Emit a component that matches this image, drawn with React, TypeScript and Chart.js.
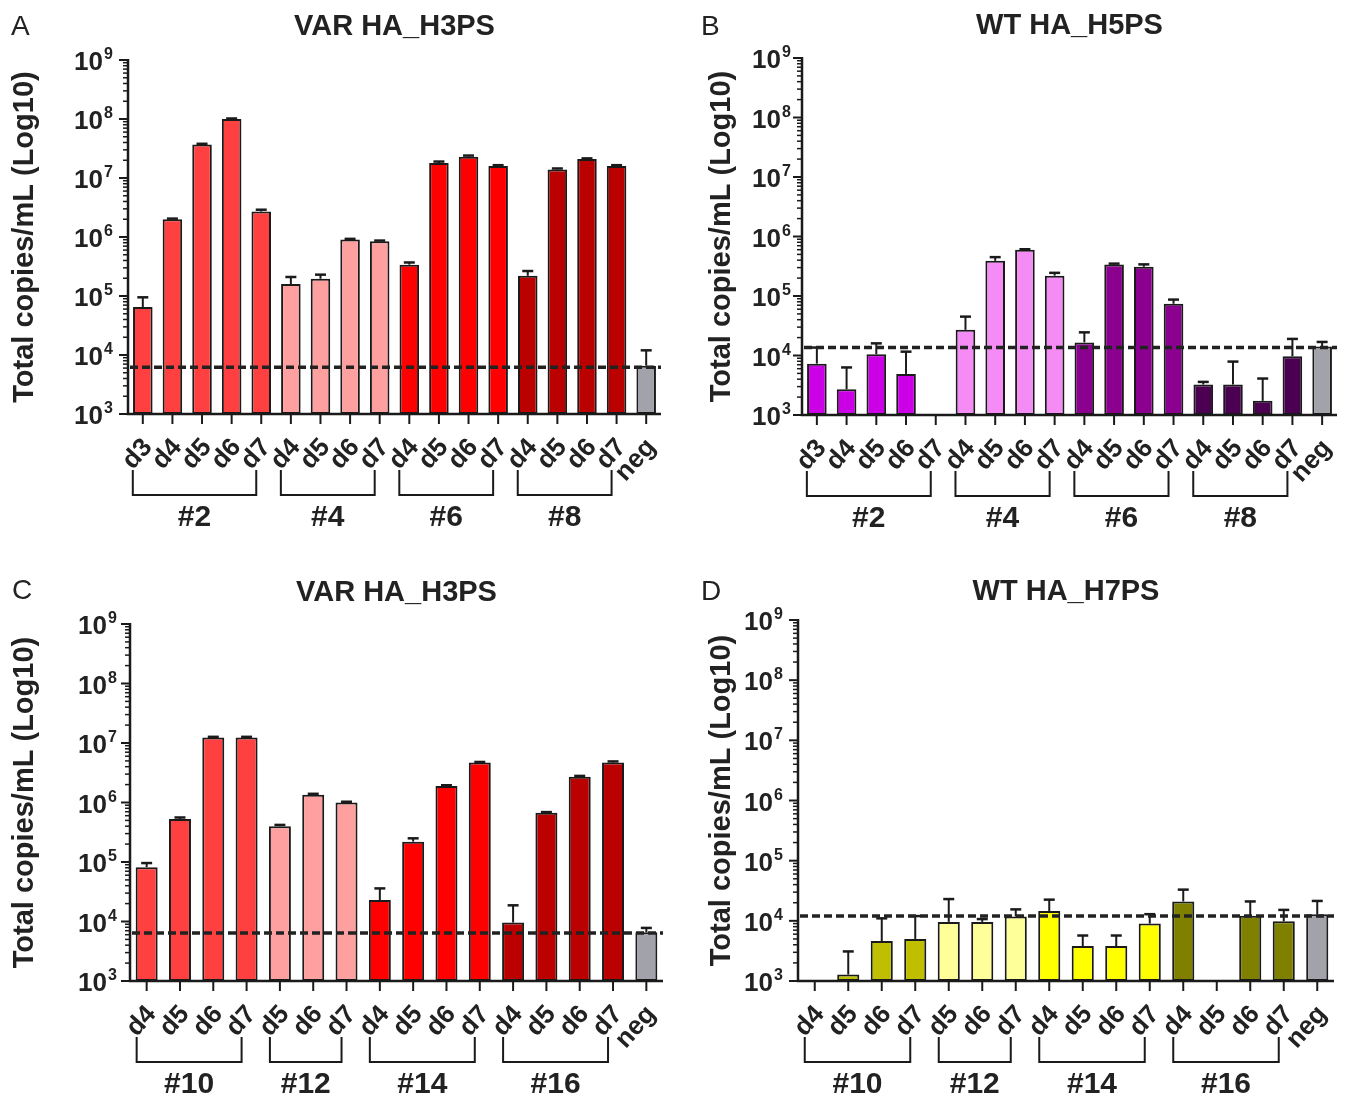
import React, { useEffect, useRef } from 'react';
import { Chart, registerables } from 'chart.js';

Chart.register(...registerables);

const FONT = '"Liberation Sans", Arial, Helvetica, sans-serif';
const INK = '#1a1a1a';

// ---------------- Panel A ----------------
const titleA = 'VAR HA_H3PS';
const catsA = ['d3', 'd4', 'd5', 'd6', 'd7', 'd4', 'd5', 'd6', 'd7', 'd4', 'd5', 'd6', 'd7', 'd4', 'd5', 'd6', 'd7', 'neg'];
const valsA = [6.5e4, 2.0e6, 3.7e7, 1.0e8, 2.7e6, 1.6e5, 1.96e5, 9.1e5, 8.5e5, 3.4e5, 1.8e7, 2.3e7, 1.6e7, 2.2e5, 1.4e7, 2.1e7, 1.6e7, 6.6e3];
const errA = [9.5e4, 2.05e6, 3.8e7, 1.02e8, 2.9e6, 2.1e5, 2.3e5, 9.3e5, 8.7e5, 3.7e5, 1.9e7, 2.4e7, 1.65e7, 2.65e5, 1.45e7, 2.15e7, 1.65e7, 1.2e4];
const groupLabelsA = ['#2', '#4', '#6', '#8'];
const groupSpansA = [[0, 4], [5, 8], [9, 12], [13, 16]];
const groupColorsA = ['#FF4040', '#FFA0A0', '#FF0000', '#BB0000'];
const cutoffA = 6.2e3;

// ---------------- Panel B ----------------
const titleB = 'WT HA_H5PS';
const catsB = ['d3', 'd4', 'd5', 'd6', 'd7', 'd4', 'd5', 'd6', 'd7', 'd4', 'd5', 'd6', 'd7', 'd4', 'd5', 'd6', 'd7', 'neg'];
const valsB = [7.3e3, 2.7e3, 1.05e4, 4.9e3, null, 2.7e4, 3.9e5, 6.0e5, 2.2e5, 1.66e4, 3.4e5, 3.1e5, 7.4e4, 3.25e3, 3.25e3, 1.73e3, 9.7e3, 1.42e4];
const errB = [1.36e4, 6.3e3, 1.6e4, 1.16e4, null, 4.5e4, 4.5e5, 6.1e5, 2.45e5, 2.45e4, 3.5e5, 3.4e5, 8.7e4, 3.6e3, 7.9e3, 4.1e3, 1.9e4, 1.69e4];
const groupLabelsB = ['#2', '#4', '#6', '#8'];
const groupSpansB = [[0, 4], [5, 8], [9, 12], [13, 16]];
const groupColorsB = ['#CC00E6', '#F58CF5', '#8B008F', '#4B0052'];
const cutoffB = 1.36e4;

// ---------------- Panel C ----------------
const titleC = 'VAR HA_H3PS';
const catsC = ['d4', 'd5', 'd6', 'd7', 'd5', 'd6', 'd7', 'd4', 'd5', 'd6', 'd7', 'd4', 'd5', 'd6', 'd7', 'neg'];
const valsC = [8.2e4, 5.3e5, 1.24e7, 1.24e7, 4.0e5, 1.35e6, 1.0e6, 2.3e4, 2.2e5, 1.9e6, 4.7e6, 9.6e3, 6.7e5, 2.7e6, 4.7e6, 6.6e3];
const errC = [9.6e4, 5.6e5, 1.27e7, 1.27e7, 4.2e5, 1.4e6, 1.03e6, 3.6e4, 2.5e5, 1.95e6, 4.8e6, 1.87e4, 6.9e5, 2.8e6, 4.9e6, 7.8e3];
const groupLabelsC = ['#10', '#12', '#14', '#16'];
const groupSpansC = [[0, 3], [4, 6], [7, 10], [11, 14]];
const groupColorsC = ['#FF4040', '#FFA0A0', '#FF0000', '#BB0000'];
const cutoffC = 6.4e3;

// ---------------- Panel D ----------------
const titleD = 'WT HA_H7PS';
const catsD = ['d4', 'd5', 'd6', 'd7', 'd5', 'd6', 'd7', 'd4', 'd5', 'd6', 'd7', 'd4', 'd5', 'd6', 'd7', 'neg'];
const valsD = [null, 1.28e3, 4.6e3, 5.0e3, 9.6e3, 9.6e3, 1.18e4, 1.45e4, 3.8e3, 3.8e3, 9.0e3, 2.1e4, null, 1.22e4, 9.8e3, 1.29e4];
const errD = [null, 3.1e3, 1.1e4, 1.2e4, 2.3e4, 1.07e4, 1.55e4, 2.25e4, 5.7e3, 5.7e3, 1.29e4, 3.3e4, null, 2.1e4, 1.52e4, 2.14e4];
const groupLabelsD = ['#10', '#12', '#14', '#16'];
const groupSpansD = [[0, 3], [4, 6], [7, 10], [11, 14]];
const groupColorsD = ['#BFBF00', '#FFFF99', '#FFFF00', '#808000'];
const cutoffD = 1.2e4;

const negColor = '#A2A2AA';
const yMin = 1e3;
const yMax = 1e9;

type Spec = {
  letter: string;
  title: string;
  cats: string[];
  vals: (number | null)[];
  errs: (number | null)[];
  groupLabels: string[];
  groupSpans: number[][];
  groupColors: string[];
  cutoff: number;
  x: number;
  y: number;
  w: number;
  h: number;
  pad: { left: number; top: number; right: number; bottom: number };
  titleY: number;
  letterX: number;
  letterY: number;
  yTitleX: number;
  tickGap: number;
};

const specs: Spec[] = [
  {
    letter: 'A', title: titleA, cats: catsA, vals: valsA, errs: errA, groupLabels: groupLabelsA,
    groupSpans: groupSpansA, groupColors: groupColorsA, cutoff: cutoffA,
    x: 0, y: 0, w: 675, h: 560, pad: { left: 128, top: 60, right: 14, bottom: 146 },
    titleY: 27, letterX: 11, letterY: 27, yTitleX: 25, tickGap: 25,
  },
  {
    letter: 'B', title: titleB, cats: catsB, vals: valsB, errs: errB, groupLabels: groupLabelsB,
    groupSpans: groupSpansB, groupColors: groupColorsB, cutoff: cutoffB,
    x: 675, y: 0, w: 675, h: 560, pad: { left: 127, top: 58, right: 13, bottom: 145 },
    titleY: 26, letterX: 26, letterY: 27, yTitleX: 47, tickGap: 21,
  },
  {
    letter: 'C', title: titleC, cats: catsC, vals: valsC, errs: errC, groupLabels: groupLabelsC,
    groupSpans: groupSpansC, groupColors: groupColorsC, cutoff: cutoffC,
    x: 0, y: 560, w: 675, h: 538, pad: { left: 130, top: 64, right: 12, bottom: 117 },
    titleY: 33, letterX: 12, letterY: 31, yTitleX: 25, tickGap: 23,
  },
  {
    letter: 'D', title: titleD, cats: catsD, vals: valsD, errs: errD, groupLabels: groupLabelsD,
    groupSpans: groupSpansD, groupColors: groupColorsD, cutoff: cutoffD,
    x: 675, y: 560, w: 675, h: 538, pad: { left: 123, top: 60, right: 16, bottom: 117 },
    titleY: 32, letterX: 26, letterY: 32, yTitleX: 47, tickGap: 25,
  },
];

function barColors(s: Spec): string[] {
  return s.cats.map((_, i) => {
    const g = s.groupSpans.findIndex(([a, b]) => i >= a && i <= b);
    return g >= 0 ? s.groupColors[g] : negColor;
  });
}

function makeDecor(s: Spec) {
  return {
    id: 'decor' + s.letter,
    afterDatasetsDraw(chart: any) {
      const ctx: CanvasRenderingContext2D = chart.ctx;
      const ys = chart.scales.y;
      const { left, right } = chart.chartArea;
      const meta = chart.getDatasetMeta(0);
      ctx.save();

      // error bars (upper only)
      ctx.strokeStyle = INK;
      s.vals.forEach((v, i) => {
        const e = s.errs[i];
        if (v == null || e == null) return;
        const cx = meta.data[i].x;
        const y0 = ys.getPixelForValue(v);
        const y1 = ys.getPixelForValue(e);
        ctx.lineWidth = 2;
        ctx.beginPath();
        ctx.moveTo(cx, y0);
        ctx.lineTo(cx, y1);
        ctx.stroke();
        ctx.lineWidth = 2.5;
        ctx.beginPath();
        ctx.moveTo(cx - 5.5, y1);
        ctx.lineTo(cx + 5.5, y1);
        ctx.stroke();
      });

      // cutoff dashed line
      const yc = ys.getPixelForValue(s.cutoff);
      ctx.strokeStyle = '#222';
      ctx.lineWidth = 3.5;
      ctx.setLineDash([8, 4]);
      ctx.beginPath();
      ctx.moveTo(left + 2, yc);
      ctx.lineTo(right, yc);
      ctx.stroke();
      ctx.setLineDash([]);
      ctx.restore();
    },
    afterDraw(chart: any) {
      const ctx: CanvasRenderingContext2D = chart.ctx;
      const xs = chart.scales.x;
      const ys = chart.scales.y;
      const { left, right, top, bottom } = chart.chartArea;
      ctx.save();
      ctx.strokeStyle = INK;
      ctx.fillStyle = '#222';

      // axes
      ctx.lineWidth = 2.5;
      ctx.beginPath();
      ctx.moveTo(left, top - 1);
      ctx.lineTo(left, bottom);
      ctx.lineTo(right, bottom);
      ctx.stroke();

      // y ticks
      for (let e = 3; e <= 9; e++) {
        const py = ys.getPixelForValue(Math.pow(10, e));
        ctx.lineWidth = 2;
        ctx.beginPath();
        ctx.moveTo(left - 9, py);
        ctx.lineTo(left, py);
        ctx.stroke();
        if (e < 9) {
          ctx.lineWidth = 1.5;
          for (let m = 2; m <= 9; m++) {
            const pm = ys.getPixelForValue(m * Math.pow(10, e));
            ctx.beginPath();
            ctx.moveTo(left - 5, pm);
            ctx.lineTo(left, pm);
            ctx.stroke();
          }
        }
        // label 10^e
        ctx.font = `bold 26px ${FONT}`;
        ctx.textAlign = 'right';
        ctx.textBaseline = 'alphabetic';
        ctx.fillText('10', left - s.tickGap, py + 10);
        ctx.font = `bold 16px ${FONT}`;
        ctx.textAlign = 'left';
        ctx.fillText(String(e), left - s.tickGap + 1, py - 1);
      }

      // x ticks and labels
      s.cats.forEach((c, i) => {
        const px = xs.getPixelForValue(i);
        ctx.lineWidth = 2;
        ctx.beginPath();
        ctx.moveTo(px, bottom);
        ctx.lineTo(px, bottom + 10);
        ctx.stroke();
        ctx.save();
        ctx.translate(px + 5, bottom + 29);
        ctx.rotate((-48 * Math.PI) / 180);
        ctx.font = `bold 26px ${FONT}`;
        ctx.textAlign = 'right';
        ctx.textBaseline = 'middle';
        ctx.fillText(c, 0, 0);
        ctx.restore();
      });

      // group brackets
      s.groupSpans.forEach(([a, b], g) => {
        const x0 = xs.getPixelForValue(a) - 10;
        const x1 = xs.getPixelForValue(b) - 5;
        ctx.lineWidth = 2;
        ctx.beginPath();
        ctx.moveTo(x0, bottom + 56);
        ctx.lineTo(x0, bottom + 81);
        ctx.lineTo(x1, bottom + 81);
        ctx.lineTo(x1, bottom + 56);
        ctx.stroke();
        ctx.font = `bold 30px ${FONT}`;
        ctx.textAlign = 'center';
        ctx.textBaseline = 'middle';
        ctx.fillText(s.groupLabels[g], (x0 + x1) / 2, bottom + 104);
      });

      // title
      ctx.font = `bold 29px ${FONT}`;
      ctx.textAlign = 'center';
      ctx.textBaseline = 'middle';
      ctx.fillText(s.title, (left + right) / 2, s.titleY);

      // panel letter
      ctx.font = `28px ${FONT}`;
      ctx.textAlign = 'left';
      ctx.fillText(s.letter, s.letterX, s.letterY);

      // y title
      ctx.save();
      ctx.translate(s.yTitleX, (top + bottom) / 2);
      ctx.rotate(-Math.PI / 2);
      ctx.font = `bold 29px ${FONT}`;
      ctx.textAlign = 'center';
      ctx.textBaseline = 'middle';
      ctx.fillText('Total copies/mL (Log10)', 0, 0);
      ctx.restore();

      ctx.restore();
    },
  };
}

function Panel({ spec }: { spec: Spec }) {
  const ref = useRef<HTMLCanvasElement>(null);
  useEffect(() => {
    const canvas = ref.current;
    if (!canvas) return;
    const chart = new Chart(canvas, {
      type: 'bar',
      data: {
        labels: spec.cats,
        datasets: [
          {
            data: spec.vals as any,
            backgroundColor: barColors(spec),
            borderColor: INK,
            borderWidth: 2,
            borderSkipped: false,
            barPercentage: 0.66,
            categoryPercentage: 1,
          },
        ],
      },
      options: {
        responsive: false,
        animation: false,
        devicePixelRatio: 1,
        layout: { padding: spec.pad },
        plugins: { legend: { display: false }, tooltip: { enabled: false } },
        scales: {
          x: { type: 'category', display: false, offset: true },
          y: { type: 'logarithmic', display: false, min: yMin, max: yMax },
        },
      },
      plugins: [makeDecor(spec)],
    });
    return () => chart.destroy();
  }, [spec]);
  return (
    <canvas
      ref={ref}
      width={spec.w}
      height={spec.h}
      style={{ position: 'absolute', left: spec.x, top: spec.y, width: spec.w, height: spec.h }}
    />
  );
}

export default function App() {
  return (
    <div style={{ position: 'absolute', left: 0, top: 0, width: 1350, height: 1098, background: '#fff' }}>
      {specs.map((s) => (
        <Panel key={s.letter} spec={s} />
      ))}
    </div>
  );
}
